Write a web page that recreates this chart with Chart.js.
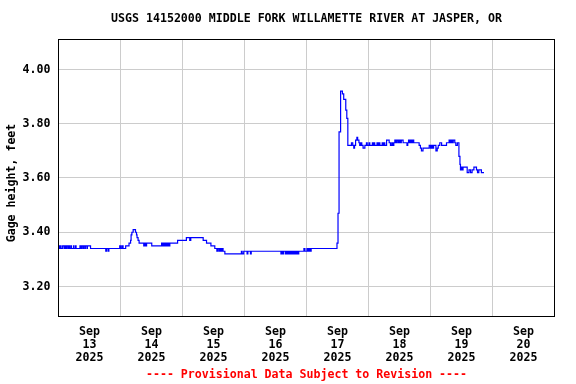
<!DOCTYPE html>
<html><head><meta charset="utf-8">
<script src="https://cdn.jsdelivr.net/npm/chart.js@4/dist/chart.umd.min.js"></script>
<style>html,body{margin:0;padding:0;background:#fff}canvas{display:block}</style>
</head><body>
<canvas id="c" width="576" height="384" style="width:576px;height:384px"></canvas>
<script>
// Hours since 2025-09-13 00:00 (local), 15-minute gage readings (steps)
const hours = [
0,0.4,0.8,1.0,1.6,2.2,2.5,2.8,3.1,3.6,3.9,4.3,4.8,5.0,5.8,6.0,6.6,6.8,8.3,8.6,8.9,9.4,9.7,10.2,10.4,11.0,11.2,12.4,
18.3,18.6,19.2,19.5,23.7,24.1,24.6,25.0,26.0,27.3,27.9,28.1,28.4,28.9,29.8,30.2,30.4,30.8,31.2,
33.0,33.4,33.8,34.1,36.1,39.9,40.3,40.7,41.1,41.5,41.9,42.3,42.7,43.1,46.1,49.5,50.8,51.2,
56.0,57.3,59.0,60.5,61.3,61.7,62.2,62.6,63.0,63.4,63.7,64.4,70.8,71.1,71.7,73.0,73.3,74.3,74.6,
86.1,86.4,86.8,87.1,87.8,88.2,88.6,89.0,89.4,89.8,90.2,90.6,91.0,91.4,91.8,92.2,92.6,93.0,
95.0,95.4,96.2,96.6,97.0,97.4,97.8,107.8,108.2,108.6,109.2,109.9,110.4,111.2,111.6,112.0,
113.4,113.9,114.3,114.6,115.0,115.5,115.8,116.3,116.6,117.0,117.4,117.9,118.6,119.2,119.5,120.2,120.5,
121.5,121.8,122.1,122.4,123.3,123.6,124.0,124.4,125.3,125.6,126.0,126.3,127.0,128.0,128.5,129.0,129.4,129.8,
130.2,130.6,131.0,131.5,131.9,132.3,132.7,133.4,134.9,135.2,135.5,135.9,136.3,136.7,137.1,137.5,
139.6,140.1,140.5,141.1,143.5,144.0,144.4,144.8,145.2,146.1,146.6,147.0,147.6,148.3,150.2,
151.2,151.6,152.0,152.4,152.8,153.4,153.8,154.4,155.0,155.4,155.6,155.9,156.2,156.6,
158.2,158.9,159.5,160.1,160.8,161.8,162.2,162.7,163.7,164.7
];
const gageHeight = [
3.35,3.34,3.35,3.34,3.35,3.34,3.35,3.34,3.35,3.34,3.35,3.34,3.35,3.34,3.35,3.34,3.35,3.34,3.35,3.34,3.35,3.34,3.35,3.34,3.35,3.34,3.35,3.34,
3.33,3.34,3.33,3.34,3.35,3.34,3.35,3.34,3.35,3.36,3.37,3.39,3.40,3.41,3.40,3.39,3.38,3.37,3.36,
3.35,3.36,3.35,3.36,3.35,3.36,3.35,3.36,3.35,3.36,3.35,3.36,3.35,3.36,3.37,3.38,3.37,3.38,
3.37,3.36,3.35,3.34,3.33,3.34,3.33,3.34,3.33,3.34,3.33,3.32,3.33,3.32,3.33,3.32,3.33,3.32,3.33,
3.32,3.33,3.32,3.33,3.32,3.33,3.32,3.33,3.32,3.33,3.32,3.33,3.32,3.33,3.32,3.33,3.32,3.33,
3.34,3.33,3.34,3.33,3.34,3.33,3.34,3.36,3.47,3.77,3.92,3.91,3.89,3.85,3.82,3.72,
3.73,3.72,3.71,3.72,3.74,3.75,3.74,3.73,3.72,3.73,3.72,3.71,3.72,3.73,3.72,3.73,3.72,
3.73,3.72,3.73,3.72,3.73,3.72,3.73,3.72,3.73,3.72,3.73,3.72,3.74,3.73,3.72,3.73,3.72,3.73,
3.74,3.73,3.74,3.73,3.74,3.73,3.74,3.73,3.72,3.73,3.74,3.73,3.74,3.73,3.74,3.73,
3.72,3.71,3.70,3.71,3.72,3.71,3.72,3.71,3.72,3.70,3.71,3.72,3.73,3.72,3.73,
3.74,3.73,3.74,3.73,3.74,3.73,3.72,3.73,3.68,3.65,3.63,3.64,3.63,3.64,
3.62,3.63,3.62,3.63,3.64,3.63,3.62,3.63,3.62,3.62
];
const dayTickHours = [12,36,60,84,108,132,156,180];
const dayLabels = [
['Sep','13','2025'],['Sep','14','2025'],['Sep','15','2025'],['Sep','16','2025'],
['Sep','17','2025'],['Sep','18','2025'],['Sep','19','2025'],['Sep','20','2025']
];
const yTickValues = [3.20,3.40,3.60,3.80,4.00];
const titleText = 'USGS 14152000 MIDDLE FORK WILLAMETTE RIVER AT JASPER, OR';
const yTitleText = 'Gage height, feet';
const noteText = '---- Provisional Data Subject to Revision ----';

const FONT = "'DejaVu Sans Mono', monospace";
const fnt = {family: FONT, size: 11.6, weight: 'bold', lineHeight: 1.2};

const points = hours.map((h, i) => ({x: h, y: gageHeight[i]}));

const frame = {
  id: 'frame',
  afterDatasetsDraw(chart) {
    const a = chart.chartArea, ctx = chart.ctx;
    ctx.save();
    ctx.strokeStyle = '#000';
    ctx.lineWidth = 1;
    ctx.strokeRect(a.left, a.top, a.right - a.left, a.bottom - a.top);
    ctx.restore();
  }
};

const yTitle = {
  id: 'yTitle',
  afterDraw(chart) {
    const a = chart.chartArea, ctx = chart.ctx;
    ctx.save();
    ctx.translate(11.5, (a.top + a.bottom) / 2 + 5);
    ctx.rotate(-Math.PI / 2);
    ctx.font = "bold 11.6px " + FONT;
    ctx.fillStyle = '#000';
    ctx.textAlign = 'center';
    ctx.textBaseline = 'middle';
    ctx.fillText(yTitleText, 0, 0);
    ctx.restore();
  }
};

new Chart(document.getElementById('c'), {
  type: 'line',
  data: {
    datasets: [{
      data: points,
      borderColor: '#0000ff',
      borderWidth: 1.2,
      stepped: true,
      pointRadius: 0,
      fill: false
    }]
  },
  options: {
    responsive: false,
    animation: false,
    devicePixelRatio: 1,
    layout: {padding: {left: 0, right: 21.5, top: 0, bottom: 0}},
    plugins: {
      legend: {display: false},
      tooltip: {enabled: false},
      title: {display: true, fullSize: false, text: titleText, color: '#000', font: fnt, padding: {top: 12.5, bottom: 13.08}},
      subtitle: {display: true, fullSize: false, position: 'bottom', text: noteText, color: '#ff0000', font: fnt, padding: {top: 0, bottom: 1.58}}
    },
    scales: {
      x: {
        type: 'linear', min: 0, max: 192,
        afterBuildTicks(scale) {
          const t = [];
          for (let v = 0; v <= 192; v += 12) t.push({value: v});
          scale.ticks = t;
        },
        afterFit(scale) { scale.height = 52; },
        border: {display: false},
        grid: {
          drawTicks: false,
          lineWidth: 1,
          color: (c) => (c.tick && c.tick.value % 24 === 0 && c.tick.value > 0 && c.tick.value < 192) ? '#cccccc' : 'rgba(0,0,0,0)'
        },
        ticks: {
          autoSkip: false, maxRotation: 0, minRotation: 0, padding: 9,
          color: '#000', font: {family: FONT, size: 11.6, weight: 'bold', lineHeight: 12.8 / 11.6},
          callback: (v) => { const i = dayTickHours.indexOf(v); return i >= 0 ? dayLabels[i] : ''; }
        }
      },
      y: {
        type: 'linear', min: 3.0894, max: 4.1106,
        afterBuildTicks(scale) { scale.ticks = yTickValues.map(v => ({value: v})); },
        afterFit(scale) { scale.width = 58.5; },
        border: {display: false},
        grid: {drawTicks: false, color: '#cccccc', lineWidth: 1},
        ticks: {
          padding: 8, color: '#000', font: fnt,
          callback: (v) => Number(v).toFixed(2)
        },
        title: {display: false}
      }
    }
  },
  plugins: [frame, yTitle]
});
</script>
</body></html>
